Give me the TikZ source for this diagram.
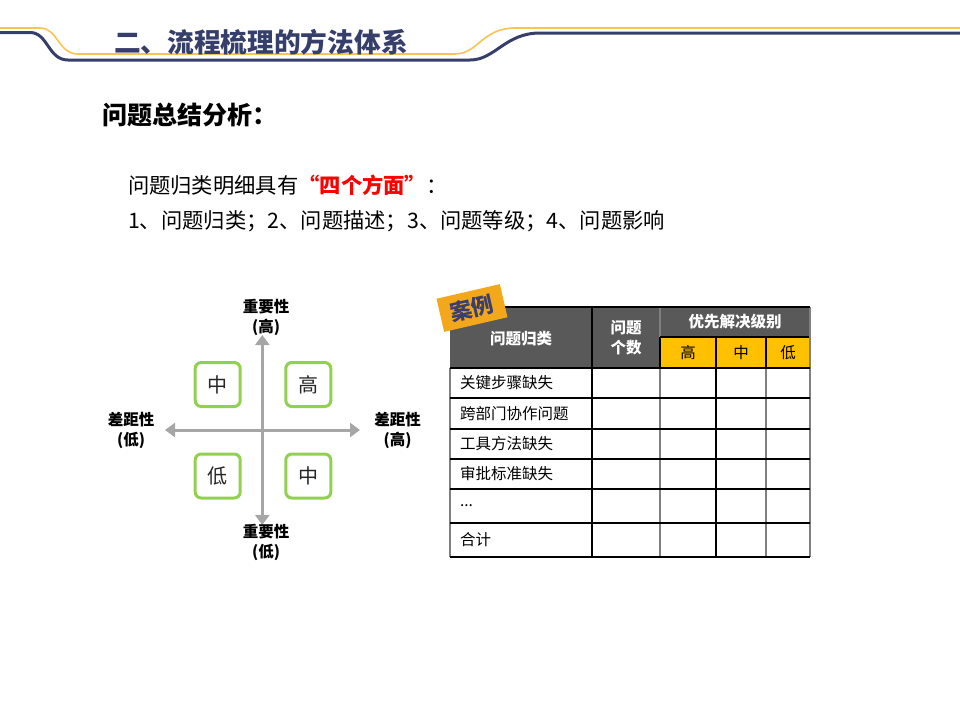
\documentclass[tikz,border=0pt]{standalone}
\usepackage{fontspec}
\setmainfont{Noto Sans CJK SC}
\usetikzlibrary{arrows.meta}
\definecolor{navy}{HTML}{363F6B}
\definecolor{goldline}{HTML}{F9C54E}
\definecolor{axisgray}{HTML}{A6A6A6}
\definecolor{boxgreen}{HTML}{92D050}
\definecolor{hdrgray}{HTML}{595959}
\definecolor{subyellow}{HTML}{FFC000}
\definecolor{badgeorange}{HTML}{F3A81B}
\definecolor{badgetext}{HTML}{3B3F6E}
\definecolor{cellgray}{HTML}{808080}
\tikzset{
  txt/.style={inner sep=0pt, outer sep=0pt},
  quadbox/.style={draw=boxgreen, line width=3pt, rounded corners=6pt, fill=white,
    minimum width=45pt, minimum height=44pt, inner sep=0pt,
    font=\fontsize{20}{24}\selectfont, text=black!85},
  axislbl/.style={txt, align=center, font=\fontsize{15.5}{20}\selectfont\bfseries},
  axisarrow/.style={draw=axisgray, line width=3pt,
    {Triangle[length=10pt,width=14pt]}-{Triangle[length=10pt,width=14pt]}},
  hdrtxt/.style={txt, align=center, text=white, font=\fontsize{15.5}{20}\selectfont\bfseries},
  subtxt/.style={txt, font=\fontsize{15.5}{20}\selectfont},
  celltxt/.style={txt, anchor=west, font=\fontsize{15.5}{20}\selectfont},
  blackrule/.style={draw=black, line width=1.3pt},
  grayrule/.style={draw=cellgray, line width=1.3pt},
}
\begin{document}
\begin{tikzpicture}[x=1pt,y=-1pt]
\path[use as bounding box] (0,0) rectangle (960,720);
% header decoration
\draw[goldline, line width=1.6pt] (0,28) -- (40,28) .. controls (58,28) and (58,54) .. (78,54)
  -- (455,54) .. controls (478,54) and (482,28) .. (515,28) -- (960,28);
\draw[navy, line width=3pt] (0,32.5) -- (30,32.5) .. controls (48,32.5) and (48,60) .. (68,60)
  -- (470,60) .. controls (495,60) and (505,33) .. (540,33) -- (960,33);
\node[txt, anchor=west, text=navy, font=\fontsize{26.7}{30}\selectfont\bfseries] (title) at (114,42) {二、流程梳理的方法体系};
% heading and text
\node[txt, anchor=west, font=\fontsize{25}{28}\selectfont\bfseries] (head) at (102,115) {问题总结分析：};
\node[txt, anchor=west, font=\fontsize{21.3}{24}\selectfont] (line1) at (128,185) {问题归类明细具有{\color{red}\bfseries “四个方面”}：};
\node[txt, anchor=west, font=\fontsize{21.3}{24}\selectfont] (line2) at (128,221) {1、问题归类；2、问题描述；3、问题等级；4、问题影响};
% quadrant
\coordinate (vt) at (262.3,335);
\coordinate (vb) at (262.3,525);
\coordinate (hl) at (165,430);
\coordinate (hr) at (360,430);
\draw[axisarrow] (vb) -- (vt);
\draw[axisarrow] (hl) -- (hr);
\node[quadbox] (qtl) at (217.7,384.5) {中};
\node[quadbox] (qtr) at (308.3,384.5) {高};
\node[quadbox] (qbl) at (217.7,476) {低};
\node[quadbox] (qbr) at (308.3,476) {中};
\node[axislbl] (lt) at (266,317) {重要性\\(高)};
\node[axislbl] (lb) at (266,542) {重要性\\(低)};
\node[axislbl] (ll) at (131,430) {差距性\\(低)};
\node[axislbl] (lr) at (397.5,430) {差距性\\(高)};
% table
\fill[hdrgray] (450,307) rectangle (810,368);
\fill[subyellow] (660,337) rectangle (810,368);
\draw[grayrule] (660,307) -- (660,337);
\draw[blackrule] (592,307) -- (592,368);
\draw[blackrule] (660,337) -- (660,368);
\draw[blackrule] (716,337) -- (716,368);
\draw[blackrule] (766,337) -- (766,368);
\draw[blackrule] (660,337) -- (810,337);
\draw[grayrule] (450,368) -- (450,557);
\draw[blackrule] (592,368) -- (592,557);
\draw[grayrule] (660,368) -- (660,557);
\draw[blackrule] (716,368) -- (716,557);
\draw[grayrule] (766,368) -- (766,557);
\draw[grayrule] (810,307) -- (810,557);
\draw[blackrule] (450,307) -- (810,307);
\draw[blackrule] (450,368) -- (810,368);
\foreach \yy in {398,429,459,489,523,557} {\draw[blackrule] (450,\yy) -- (810,\yy);}
\node[hdrtxt] (h1) at (521,339) {问题归类};
\node[hdrtxt] (h2) at (626,338) {问题\\个数};
\node[hdrtxt] (h3) at (735,322) {优先解决级别};
\node[subtxt] (s1) at (688,352.5) {高};
\node[subtxt] (s2) at (741,352.5) {中};
\node[subtxt] (s3) at (788,352.5) {低};
\node[celltxt] (r1) at (460,383) {关键步骤缺失};
\node[celltxt] (r2) at (460,413.5) {跨部门协作问题};
\node[celltxt] (r3) at (460,444) {工具方法缺失};
\node[celltxt] (r4) at (460,474) {审批标准缺失};
\node[celltxt] (r5) at (460,506) {...};
\node[celltxt] (r6) at (460,540) {合计};
% badge
\node[fill=badgeorange, rotate=13, minimum width=65pt, minimum height=34pt, inner sep=0pt,
  text=badgetext, font=\fontsize{22}{26}\selectfont\bfseries] (badge) at (472,308) {案例};
\end{tikzpicture}
\end{document}
